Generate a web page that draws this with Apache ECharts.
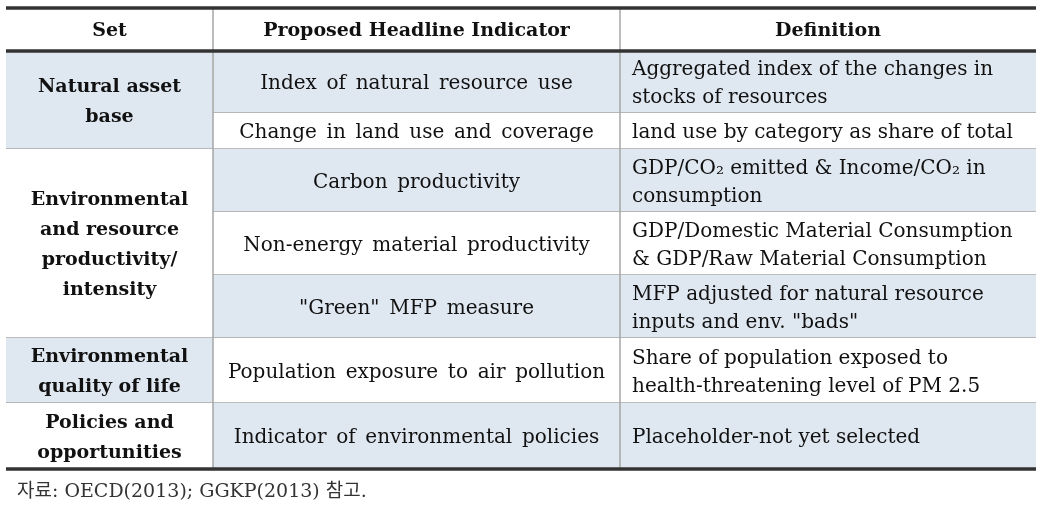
<!DOCTYPE html>
<html>
<head>
<meta charset="utf-8">
<script src="https://cdn.jsdelivr.net/npm/echarts@6/dist/echarts.min.js"></script>
<style>html,body{margin:0;padding:0;background:#fff}#c{width:1041px;height:521px}</style>
</head>
<body>
<div id="c"></div>
<script>
// ---- data ----
const headers = ['Set', 'Proposed Headline Indicator', 'Definition'];
const sets = ['Natural asset\nbase', 'Environmental\nand resource\nproductivity/\nintensity', 'Environmental\nquality of life', 'Policies and\nopportunities'];
const setSpans = [2, 3, 1, 1];
const setShaded = [true, false, true, false];
const indicators = [
  'Index of natural resource use',
  'Change in land use and coverage',
  'Carbon productivity',
  'Non-energy material productivity',
  '"Green" MFP measure',
  'Population exposure to air pollution',
  'Indicator of environmental policies'
];
const definitions = [
  'Aggregated index of the changes in\nstocks of resources',
  'land use by category as share of total',
  'GDP/CO\u2082 emitted & Income/CO\u2082 in\nconsumption',
  'GDP/Domestic Material Consumption\n& GDP/Raw Material Consumption',
  'MFP adjusted for natural resource\ninputs and env. "bads"',
  'Share of population exposed to\nhealth-threatening level of PM 2.5',
  'Placeholder-not yet selected'
];
const rowShaded = [true, false, true, false, true, false, true];
const footnote = '자료: OECD(2013); GGKP(2013) 참고.';

// ---- layout ----
const colEdges = [0, 207, 614, 1030];
const headerH = 43;
const rowHeights = [62, 36, 63, 63, 63, 65, 66];
const SHADE = '#dfe7f0';
const GRID_LINE = '#a6a6a6';
const FONT = '"DejaVu Serif", "Liberation Serif", "Noto Sans CJK KR", serif';
const TEXT_DY = 2;
const rowEdges = [headerH];
rowHeights.forEach(h => rowEdges.push(rowEdges[rowEdges.length - 1] + h));
const totalH = rowEdges[rowEdges.length - 1];

// build cells: [x0, x1, y0, y1]
const cells = [], meta = [];
headers.forEach((h, i) => {
  cells.push([colEdges[i], colEdges[i + 1], 0, headerH]);
  meta.push({text: h, fill: '#fff', bold: true, size: 19, wide: false, align: 'center', col: i, lh: 28, bottom: false});
});
let r = 0;
sets.forEach((s, i) => {
  const y0 = rowEdges[r], y1 = rowEdges[r + setSpans[i]];
  cells.push([colEdges[0], colEdges[1], y0, y1]);
  meta.push({text: s, fill: setShaded[i] ? SHADE : '#fff', bold: true, size: 19, wide: false, align: 'center', col: 0, lh: 30, bottom: i < sets.length - 1});
  r += setSpans[i];
});
indicators.forEach((t, i) => {
  cells.push([colEdges[1], colEdges[2], rowEdges[i], rowEdges[i + 1]]);
  meta.push({text: t, fill: rowShaded[i] ? SHADE : '#fff', bold: false, size: 20, wide: true, align: 'center', col: 1, lh: 28, bottom: i < indicators.length - 1});
});
definitions.forEach((t, i) => {
  cells.push([colEdges[2], colEdges[3], rowEdges[i], rowEdges[i + 1]]);
  meta.push({text: t, fill: rowShaded[i] ? SHADE : '#fff', bold: false, size: 20, wide: false, align: 'left', col: 2, lh: 28, bottom: i < definitions.length - 1});
});
const thickLines = [[0], [headerH], [totalH]];

function renderCell(params, api) {
  const m = meta[params.dataIndex];
  const p0 = api.coord([api.value(0), api.value(2)]);
  const p1 = api.coord([api.value(1), api.value(3)]);
  const x0 = p0[0], y0 = p0[1], x1 = p1[0], y1 = p1[1];
  const children = [
    {type: 'rect', shape: {x: x0, y: y0, width: x1 - x0, height: y1 - y0}, style: {fill: m.fill}}
  ];
  if (m.bottom) children.push({type: 'line', shape: {x1: x0, y1: y1, x2: x1, y2: y1}, style: {stroke: GRID_LINE, lineWidth: 1.5}});
  if (m.col > 0) children.push({type: 'line', shape: {x1: x0, y1: y0, x2: x0, y2: y1}, style: {stroke: GRID_LINE, lineWidth: 1.5}});
  const tx = m.align === 'center' ? (x0 + x1) / 2 : x0 + 12;
  const txt = m.wide ? m.text.replace(/ /g, ' \u2006') : m.text;
  children.push({
    type: 'text', x: tx, y: (y0 + y1) / 2 + TEXT_DY,
    style: {
      text: txt, fill: '#111',
      font: (m.bold ? 'bold ' : '') + m.size + 'px ' + FONT,
      align: m.align, verticalAlign: 'middle', lineHeight: m.lh
    }
  });
  return {type: 'group', children: children};
}
function renderThick(params, api) {
  const a = api.coord([colEdges[0], api.value(0)]);
  const b = api.coord([colEdges[3], api.value(0)]);
  return {type: 'line', shape: {x1: a[0], y1: a[1], x2: b[0], y2: b[1]}, style: {stroke: '#333', lineWidth: 3.5}};
}

const chart = echarts.init(document.getElementById('c'), null, {renderer: 'canvas'});
chart.setOption({
  animation: false,
  backgroundColor: '#fff',
  title: {
    text: footnote, left: 17, top: 483, padding: 0,
    textStyle: {fontSize: 19, fontWeight: 'normal', color: '#333', fontFamily: FONT}
  },
  grid: {left: 6, top: 8, width: 1030, height: totalH},
  xAxis: {type: 'value', min: 0, max: colEdges[3], show: false},
  yAxis: {type: 'value', min: 0, max: totalH, inverse: true, show: false},
  series: [
    {type: 'custom', renderItem: renderCell, data: cells, silent: true, clip: false},
    {type: 'custom', renderItem: renderThick, data: thickLines, silent: true, clip: false, z: 3}
  ]
});
</script>
</body>
</html>
